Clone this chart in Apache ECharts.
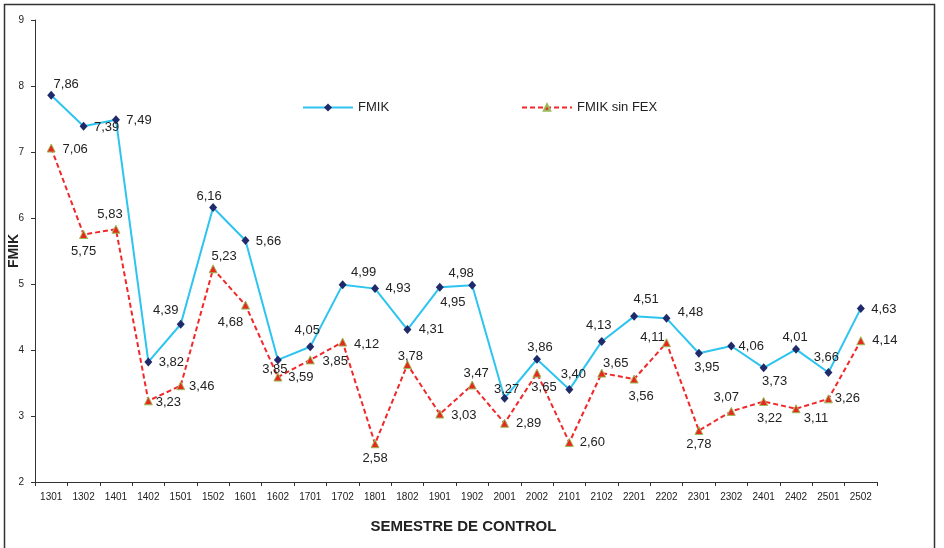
<!DOCTYPE html>
<html lang="es">
<head>
    <meta charset="UTF-8">
    <title>FMIK</title>
    <script src="https://cdn.jsdelivr.net/npm/echarts@6/dist/echarts.min.js"></script>
    <style>
        html, body { margin: 0; padding: 0; background: #fff; }
        #main { width: 944px; height: 548px; }
    </style>
</head>
<body>
<div id="main"></div>
<script>
    // semestres
    var semestres = ['1301', '1302', '1401', '1402', '1501', '1502', '1601', '1602', '1701', '1702',
        '1801', '1802', '1901', '1902', '2001', '2002', '2101', '2102', '2201', '2202',
        '2301', '2302', '2401', '2402', '2501', '2502'];

    var fmik = [7.86, 7.39, 7.49, 3.82, 4.39, 6.16, 5.66, 3.85, 4.05, 4.99,
        4.93, 4.31, 4.95, 4.98, 3.27, 3.86, 3.40, 4.13, 4.51, 4.48,
        3.95, 4.06, 3.73, 4.01, 3.66, 4.63];

    var fmikSinFex = [7.06, 5.75, 5.83, 3.23, 3.46, 5.23, 4.68, 3.59, 3.85, 4.12,
        2.58, 3.78, 3.03, 3.47, 2.89, 3.65, 2.60, 3.65, 3.56, 4.11,
        2.78, 3.07, 3.22, 3.11, 3.26, 4.14];

    var yTicks = ['2', '3', '4', '5', '6', '7', '8', '9'];

    // desplazamiento de cada etiqueta respecto al punto (como en el grafico de excel)
    var offFmik = [[15, -11], [23, 1], [23, 1], [23, 1], [-15, -14], [-4, -11], [23, 1], [-3, 10], [-3, -16], [21, -12],
        [23, 0], [24, 0], [13, 15], [-11, -12], [2, -9], [3, -12], [4, -15], [-3, -16], [12, -17], [24, -6],
        [8, 14], [20, 0], [11, 14], [-1, -12], [-2, -15], [23, 1]];
    var offSinFex = [[24, 1], [0, 17], [-6, -15], [20, 2], [21, 1], [11, -12], [-15, 17], [23, 0], [25, 2], [24, 2],
        [0, 15], [3, -8], [24, 1], [4, -12], [24, 0], [7, 14], [23, 0], [14, -10], [7, 17], [-14, -5],
        [0, 14], [-5, -14], [6, 17], [20, 10], [19, 0], [24, 0]];

    function puntos(vals, offs) {
        var out = [];
        for (var i = 0; i < vals.length; i++) {
            out.push({value: vals[i], label: {offset: offs[i]}});
        }
        return out;
    }

    function coma(p) {
        return p.value.toFixed(2).replace('.', ',');
    }

    var etiqueta = {
        show: true,
        position: 'inside',
        formatter: coma,
        fontFamily: 'Liberation Sans, Arial, sans-serif',
        fontSize: 13,
        color: '#222'
    };

    var myChart = echarts.init(document.getElementById('main'));
    var option = {
        animation: false,
        backgroundColor: '#fff',
        textStyle: {fontFamily: 'Liberation Sans, Arial, sans-serif'},
        graphic: [{
            type: 'rect',
            shape: {x: 4.5, y: 4.5, width: 930, height: 560},
            style: {fill: 'none', stroke: '#333', lineWidth: 1.5},
            silent: true
        }],
        legend: [{
            data: ['FMIK'],
            left: 302,
            top: 101,
            padding: 0,
            itemWidth: 50,
            itemHeight: 10,
            textStyle: {fontSize: 13, color: '#222'}
        }, {
            data: ['FMIK sin FEX'],
            left: 521,
            top: 101,
            padding: 0,
            itemWidth: 50,
            itemHeight: 8,
            textStyle: {fontSize: 13, color: '#222'}
        }],
        grid: {
            left: 35,
            right: 67,
            top: 20,
            bottom: 66,
            outerBoundsMode: 'none'
        },
        xAxis: {
            type: 'category',
            data: semestres,
            name: 'SEMESTRE DE CONTROL',
            nameLocation: 'middle',
            nameGap: 37,
            nameMoveOverlap: false,
            nameTextStyle: {fontSize: 15, fontWeight: 'bold', color: '#222', padding: [0, 0, 0, 15]},
            axisLine: {lineStyle: {color: '#333', width: 1}},
            axisTick: {show: true, length: 4, lineStyle: {color: '#333'}},
            axisLabel: {fontSize: 10, color: '#222', margin: 10, interval: 0}
        },
        yAxis: {
            type: 'value',
            min: 2,
            max: 9,
            interval: 1,
            name: 'FMIK',
            nameLocation: 'middle',
            nameGap: 14,
            nameMoveOverlap: false,
            nameRotate: 90,
            nameTextStyle: {fontSize: 14, fontWeight: 'bold', color: '#222'},
            axisLine: {show: true, lineStyle: {color: '#333', width: 1}},
            axisTick: {show: true, length: 4, lineStyle: {color: '#333'}},
            axisLabel: {
                fontSize: 10, color: '#222', margin: 11,
                formatter: function (v) { return yTicks[v - 2]; }
            },
            splitLine: {show: false}
        },
        series: [{
            name: 'FMIK',
            type: 'line',
            data: puntos(fmik, offFmik),
            symbol: 'diamond',
            symbolSize: [8, 9],
            lineStyle: {color: '#2ec4f0', width: 2},
            itemStyle: {color: '#1f2a6b'},
            label: etiqueta,
            z: 3
        }, {
            name: 'FMIK sin FEX',
            type: 'line',
            data: puntos(fmikSinFex, offSinFex),
            symbol: 'triangle',
            symbolSize: 8,
            lineStyle: {color: '#f0282a', width: 2, type: [5, 3]},
            itemStyle: {color: '#e8281e', borderColor: '#9bbb59', borderWidth: 1},
            label: etiqueta,
            z: 2
        }]
    };
    myChart.setOption(option);
</script>
</body>
</html>
